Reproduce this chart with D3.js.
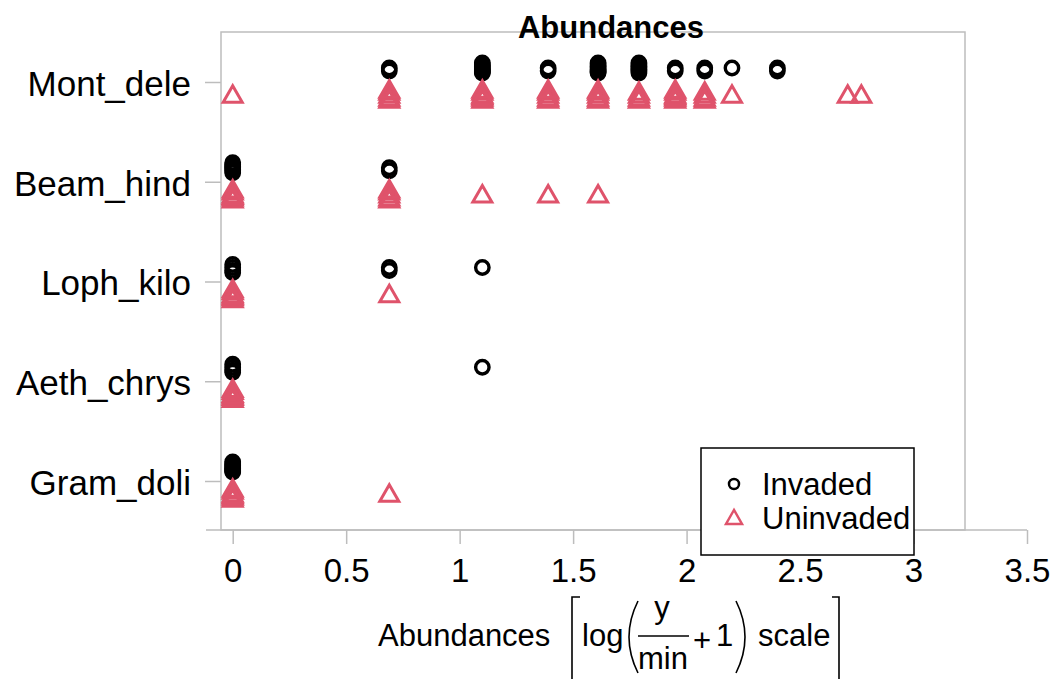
<!DOCTYPE html>
<html>
<head>
<meta charset="utf-8">
<script src="https://cdn.jsdelivr.net/npm/d3@7"></script>
<style>
  body { margin: 0; background: #fff; }
  text { font-family: "Liberation Sans", Arial, sans-serif; }
</style>
</head>
<body>
<svg id="chart" width="1059" height="679"></svg>
<script>
// categories + x ticks
const species = ["Mont_dele", "Beam_hind", "Loph_kilo", "Aeth_chrys", "Gram_doli"]
const xTicks = [0, 0.5, 1, 1.5, 2, 2.5, 3, 3.5]
const groups = ["Invaded", "Uninvaded"]

// abundances, log(y/min+1) (repeats = overlapping points)
const montDeleInv = [0.69, 0.69, 1.10, 1.10, 1.10, 1.10, 1.10, 1.10, 1.10, 1.10, 1.39, 1.39,
  1.61, 1.61, 1.61, 1.61, 1.61, 1.61, 1.61, 1.61, 1.79, 1.79, 1.79, 1.79, 1.79, 1.79, 1.79,
  1.95, 1.95, 2.08, 2.08, 2.20, 2.40, 2.40]
const montDeleUninv = [0, 0.69, 0.69, 0.69, 0.69, 0.69, 1.10, 1.10, 1.10, 1.10, 1.10, 1.10,
  1.39, 1.39, 1.39, 1.39, 1.39, 1.61, 1.61, 1.61, 1.61, 1.61, 1.79, 1.79, 1.79, 1.79,
  1.95, 1.95, 1.95, 1.95, 1.95, 1.95, 2.08, 2.08, 2.08, 2.08, 2.20, 2.71, 2.77]
const beamHindInv = [0, 0, 0, 0, 0, 0, 0, 0.69, 0.69]
const beamHindUninv = [0, 0, 0, 0, 0, 0, 0.69, 0.69, 0.69, 0.69, 0.69, 1.10, 1.39, 1.61]
const lophKiloInv = [0, 0, 0, 0, 0.69, 0.69, 1.10]
const lophKiloUninv = [0, 0, 0, 0, 0, 0, 0.69]
const aethChrysInv = [0, 0, 0, 0, 1.10]
const aethChrysUninv = [0, 0, 0, 0, 0, 0]
const gramDoliInv = [0, 0, 0, 0, 0, 0, 0, 0]
const gramDoliUninv = [0, 0, 0, 0, 0, 0, 0.69]

const invaded = [montDeleInv, beamHindInv, lophKiloInv, aethChrysInv, gramDoliInv]
const uninvaded = [montDeleUninv, beamHindUninv, lophKiloUninv, aethChrysUninv, gramDoliUninv]

const red = "#DF536B"
const grey = "#bdbdbd"
// small vertical spread for overlapping points
const jitter = [0, 3, -3, 5, -5, 1.5, -1.5, 4, -4, 2, -2]

let svg = d3.select("#chart")
let box = { left: 221, right: 965, top: 32, bottom: 530 }

let x = d3.scaleLinear().domain([0, 3.5]).range([232.7, 1027])
let y = d3.scalePoint().domain(species).range([82, 481])

// plot box
svg.append("rect")
  .attr("x", box.left).attr("y", box.top)
  .attr("width", box.right - box.left).attr("height", box.bottom - box.top)
  .attr("fill", "none").attr("stroke", grey).attr("stroke-width", 1.5)

// x axis
svg.append("line")
  .attr("x1", 206).attr("x2", x(3.5))
  .attr("y1", box.bottom).attr("y2", box.bottom)
  .attr("stroke", grey).attr("stroke-width", 1.5)
let xg = svg.append("g").attr("transform", `translate(0, ${box.bottom})`)
xg.call(d3.axisBottom(x).tickValues(xTicks).tickFormat(d3.format("~g")).tickSize(14))
xg.select(".domain").remove()
xg.selectAll(".tick line").attr("stroke", grey).attr("stroke-width", 1.5)
xg.selectAll(".tick text")
  .attr("y", 52).attr("dy", 0)
  .attr("font-size", "33px").attr("fill", "#000")
  .style("font-family", "Liberation Sans, Arial, sans-serif")

// y axis
let yg = svg.append("g").attr("transform", `translate(${box.left}, 0)`)
yg.call(d3.axisLeft(y).tickSize(16).tickPadding(14))
yg.select(".domain").remove()
yg.selectAll(".tick line").attr("stroke", grey).attr("stroke-width", 1.5)
yg.selectAll(".tick text")
  .attr("x", -30).attr("dy", "0.38em")
  .attr("font-size", "35px").attr("fill", "#000")
  .style("font-family", "Liberation Sans, Arial, sans-serif")

// title
svg.append("text")
  .attr("x", 611).attr("y", 38)
  .attr("text-anchor", "middle")
  .attr("font-size", "31px").attr("font-weight", "bold")
  .text("Abundances")

const triPath = "M0,-8.3L9.5,8.3L-9.5,8.3Z"

function points(list) {
  let out = []
  list.forEach((vals, si) => {
    let seen = {}
    vals.forEach(v => {
      let k = seen[v] || 0
      seen[v] = k + 1
      out.push({ sp: species[si], v: v, j: jitter[k % jitter.length] })
    })
  })
  return out
}

// invaded circles
svg.append("g").selectAll("circle")
  .data(points(invaded))
  .enter()
  .append("circle")
  .attr("cx", d => x(d.v))
  .attr("cy", d => y(d.sp) - 14 + d.j)
  .attr("r", 6.7)
  .attr("fill", "none")
  .attr("stroke", "#000")
  .attr("stroke-width", 3.4)

// uninvaded triangles
svg.append("g").selectAll("path")
  .data(points(uninvaded))
  .enter()
  .append("path")
  .attr("d", triPath)
  .attr("transform", d => `translate(${x(d.v)}, ${y(d.sp) + 12 + d.j})`)
  .attr("fill", "none")
  .attr("stroke", red)
  .attr("stroke-width", 3)

// legend
let lg = svg.append("g")
lg.append("rect")
  .attr("x", 701).attr("y", 448).attr("width", 213).attr("height", 107)
  .attr("fill", "#fff").attr("stroke", "#000").attr("stroke-width", 1.5)
lg.append("circle")
  .attr("cx", 734).attr("cy", 484).attr("r", 5)
  .attr("fill", "none").attr("stroke", "#000").attr("stroke-width", 2.5)
lg.append("path")
  .attr("d", triPath)
  .attr("transform", "translate(734, 517) scale(0.85)")
  .attr("fill", "none").attr("stroke", red).attr("stroke-width", 2.8)
lg.selectAll(".lab")
  .data(groups)
  .enter()
  .append("text")
  .attr("x", 762)
  .attr("y", (d, i) => 495 + i * 34)
  .attr("font-size", "31px")
  .text(d => d)

// x axis label: Abundances [ log( y/min + 1 ) scale ]
let al = svg.append("g").attr("font-size", "31px")
al.append("text").attr("x", 378).attr("y", 646).text("Abundances")
al.append("path").attr("d", "M580,597H572V690").attr("fill", "none").attr("stroke", "#000").attr("stroke-width", 1.6)
al.append("text").attr("x", 582).attr("y", 646).text("log")
al.append("path").attr("d", "M638,601Q620,637 638,673").attr("fill", "none").attr("stroke", "#000").attr("stroke-width", 1.6)
al.append("text").attr("x", 662).attr("y", 618).attr("text-anchor", "middle").text("y")
al.append("line").attr("x1", 638).attr("x2", 689).attr("y1", 636).attr("y2", 636).attr("stroke", "#000").attr("stroke-width", 1.5)
al.append("text").attr("x", 663).attr("y", 669).attr("text-anchor", "middle").text("min")
al.append("text").attr("x", 702).attr("y", 651).attr("text-anchor", "middle").text("+")
al.append("text").attr("x", 716).attr("y", 646).text("1")
al.append("path").attr("d", "M736,601Q754,637 736,673").attr("fill", "none").attr("stroke", "#000").attr("stroke-width", 1.6)
al.append("text").attr("x", 758).attr("y", 646).text("scale")
al.append("path").attr("d", "M832,597H839V690").attr("fill", "none").attr("stroke", "#000").attr("stroke-width", 1.6)
</script>
</body>
</html>
